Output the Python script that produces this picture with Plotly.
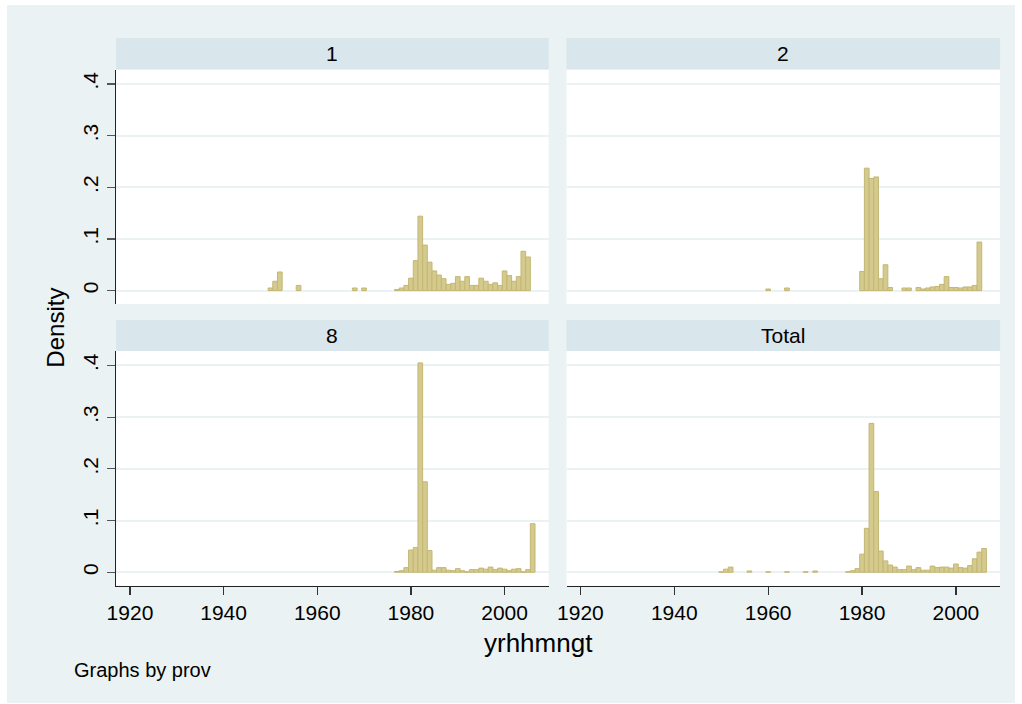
import plotly.graph_objects as go

# page is 1022x704; body keeps an 8px margin, so the figure is 1006x688 at (8, 8)
PAGE_W, PAGE_H = 1022, 704
OFF = 8
W, H = PAGE_W - 2 * OFF, PAGE_H - 2 * OFF

# ---------------- data (density per 1-year bin, bins centred on the year) ----------------
panel_titles = ["1", "2", "8", "Total"]

years_p1 = [1950, 1951, 1952, 1956, 1968, 1970] + list(range(1977, 2006))
dens_p1 = [0.005, 0.018, 0.036, 0.010, 0.005, 0.005,
           0.002, 0.005, 0.010, 0.024, 0.058, 0.144, 0.088, 0.055, 0.038, 0.030,
           0.023, 0.012, 0.014, 0.027, 0.018, 0.027, 0.010, 0.010, 0.024, 0.018,
           0.012, 0.015, 0.010, 0.038, 0.029, 0.018, 0.027, 0.076, 0.065]

years_p2 = [1960, 1964] + list(range(1980, 1987)) + [1989, 1990] + list(range(1992, 2006))
dens_p2 = [0.003, 0.005,
           0.037, 0.237, 0.217, 0.220, 0.023, 0.050, 0.006,
           0.005, 0.005,
           0.006, 0.003, 0.005, 0.007, 0.008, 0.012, 0.027, 0.006, 0.006, 0.005,
           0.007, 0.007, 0.010, 0.094]

years_p3 = list(range(1977, 2007))
dens_p3 = [0.0015, 0.003, 0.009, 0.043, 0.048, 0.405, 0.175, 0.042, 0.004, 0.009,
           0.009, 0.004, 0.003, 0.007, 0.003, 0.001, 0.005, 0.005, 0.008, 0.006,
           0.010, 0.005, 0.008, 0.006, 0.003, 0.006, 0.007, 0.001, 0.005, 0.094]

years_tot = [1950, 1951, 1952, 1956, 1960, 1964, 1968, 1970] + list(range(1977, 2007))
dens_tot = [0.001, 0.006, 0.010, 0.0025, 0.001, 0.001, 0.001, 0.0025,
            0.001, 0.003, 0.007, 0.035, 0.085, 0.288, 0.156, 0.041, 0.022, 0.014,
            0.010, 0.005, 0.005, 0.012, 0.005, 0.009, 0.004, 0.004, 0.012, 0.009,
            0.010, 0.010, 0.008, 0.016, 0.009, 0.008, 0.013, 0.026, 0.039, 0.046]

x_tickvals = [1920, 1940, 1960, 1980, 2000]
x_ticktext = ["1920", "1940", "1960", "1980", "2000"]
y_tickvals = [0, 0.1, 0.2, 0.3, 0.4]
y_ticktext = ["0", ".1", ".2", ".3", ".4"]

# ---------------- styling ----------------
OUTER_BG = "#EAF2F3"
STRIP = "#D9E6EB"
GRID = "#EAF2F3"
BAR_FILL = "#D4CA8D"
BAR_LINE = "#C3B774"
FONT = "Liberation Sans, Arial, Helvetica, sans-serif"

# positions below are page pixels; converted to figure paper coordinates
def px(x):
    return (x - OFF) / W

def py(y):
    return 1 - (y - OFF) / H

col_x = [(108, 544.5), (562.5, 1000)]
row_y = [(69.5, 304), (351, 585.7)]
strip_y = [(38, 69.5), (320, 351)]
XR = [1917.04, 2009.42]
YR = [-0.026, 0.428]

fig = go.Figure()

series = [(years_p1, dens_p1), (years_p2, dens_p2), (years_p3, dens_p3), (years_tot, dens_tot)]
for i, (xs, ys) in enumerate(series):
    fig.add_trace(go.Bar(
        x=xs, y=ys, width=1.0,
        marker=dict(color=BAR_FILL, line=dict(color=BAR_LINE, width=1)),
        xaxis="x" if i == 0 else f"x{i+1}",
        yaxis="y" if i == 0 else f"y{i+1}",
        showlegend=False, hoverinfo="skip",
    ))

layout = dict(
    width=W, height=H,
    margin=dict(l=0, r=0, t=0, b=0),
    paper_bgcolor=OUTER_BG,
    plot_bgcolor="white",
    bargap=0,
    font=dict(family=FONT, color="black", size=21),
    showlegend=False,
)

shapes = []
annotations = []
for i in range(4):
    r, c = divmod(i, 2)
    xk = "xaxis" if i == 0 else f"xaxis{i+1}"
    yk = "yaxis" if i == 0 else f"yaxis{i+1}"
    xa = "x" if i == 0 else f"x{i+1}"
    ya = "y" if i == 0 else f"y{i+1}"
    bottom = (r == 1)
    left = (c == 0)
    layout[xk] = dict(
        domain=[px(col_x[c][0]), px(col_x[c][1])], anchor=ya, range=XR,
        showgrid=False, zeroline=False,
        showline=bottom, linecolor="#222", linewidth=1.5,
        ticks="outside" if bottom else "", ticklen=8, tickwidth=1.2, tickcolor="#333",
        tickvals=x_tickvals, ticktext=x_ticktext, showticklabels=bottom,
        tickfont=dict(size=21, family=FONT, color="black"),
        fixedrange=True,
    )
    layout[yk] = dict(
        domain=[py(row_y[r][1]), py(row_y[r][0])], anchor=xa, range=YR,
        showgrid=True, gridcolor=GRID, gridwidth=2, zeroline=False,
        showline=left, linecolor="#222", linewidth=1.5,
        ticks="outside" if left else "", ticklen=8, tickwidth=1.2, tickcolor="#555",
        tickvals=y_tickvals, ticktext=y_ticktext, showticklabels=left,
        tickangle=-90, tickfont=dict(size=21, family=FONT, color="black"),
        fixedrange=True,
    )
    shapes.append(dict(type="rect", xref="paper", yref="paper",
                       x0=px(col_x[c][0]), x1=px(col_x[c][1]),
                       y0=py(strip_y[r][1]), y1=py(strip_y[r][0]),
                       fillcolor=STRIP, line=dict(width=0), layer="below"))
    annotations.append(dict(text=panel_titles[i], xref="paper", yref="paper",
                            x=px((col_x[c][0] + col_x[c][1]) / 2),
                            y=py((strip_y[r][0] + strip_y[r][1]) / 2),
                            xanchor="center", yanchor="middle", showarrow=False,
                            font=dict(size=21, family=FONT, color="black")))

annotations.append(dict(text="Density", xref="paper", yref="paper",
                        x=px(47), y=py(328), textangle=-90,
                        xanchor="center", yanchor="middle", showarrow=False,
                        font=dict(size=24, family=FONT, color="black")))
annotations.append(dict(text="yrhhmngt", xref="paper", yref="paper",
                        x=px(534), y=py(643),
                        xanchor="center", yanchor="middle", showarrow=False,
                        font=dict(size=26, family=FONT, color="black")))
annotations.append(dict(text="Graphs by prov", xref="paper", yref="paper",
                        x=px(64), y=py(670),
                        xanchor="left", yanchor="middle", showarrow=False,
                        font=dict(size=20, family=FONT, color="black")))

layout["shapes"] = shapes
layout["annotations"] = annotations
fig.update_layout(**layout)

# body keeps the same total size (1022x704); its padding box gives the light
# graph-region frame around the figure, the page itself stays white
POST = (
    "document.documentElement.style.background='white';"
    "document.body.style.margin='5px 7px 1px 7px';"
    "document.body.style.padding='3px 1px 7px 1px';"
    "document.body.style.background='" + OUTER_BG + "';"
    "document.body.style.overflow='hidden';"
)

fig.write_html(
    "out.html",
    config={"displayModeBar": False, "staticPlot": True},
    post_script=POST,
)
